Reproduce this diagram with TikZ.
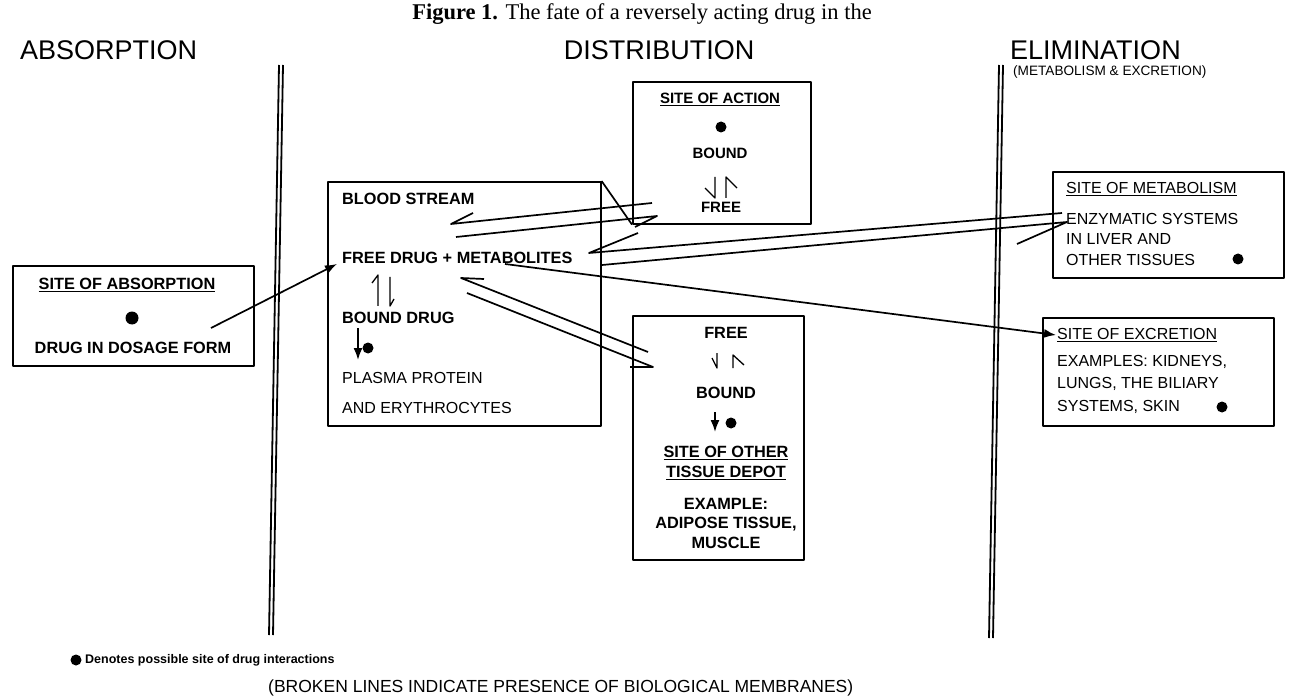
\documentclass[tikz,border=0pt]{standalone}
\usepackage{fontspec}
\setmainfont{Liberation Sans}
\newfontfamily\capfont{Liberation Serif}
\usetikzlibrary{arrows.meta}

\tikzset{
  box/.style={draw, line width=1.6pt, anchor=north west, inner sep=0pt},
  bigtxt/.style={font=\fontsize{27pt}{30pt}\selectfont, inner sep=0pt},
  txt/.style={font=\fontsize{16pt}{20.5pt}\selectfont, inner sep=0pt},
  btxt/.style={font=\fontsize{16.3pt}{20pt}\selectfont\bfseries, inner sep=0pt},
  sbtxt/.style={font=\fontsize{15pt}{18pt}\selectfont\bfseries, inner sep=0pt},
  dot/.style={circle, fill, inner sep=0pt, minimum size=11pt},
  link/.style={line width=1.7pt},
  harp/.style={line width=1.3pt},
  arr/.style={line width=1.7pt, -{Latex[length=12pt,width=9pt]}},
  membrane/.style={line width=1.8pt}
}

\begin{document}
\begin{tikzpicture}[x=1pt, y=-1pt, line join=round]
\useasboundingbox (0,0) rectangle (1297,700);

% headings
\node[font=\capfont\fontsize{22.5pt}{24pt}\selectfont, inner sep=0pt] (title) at (642,14)
  {\textbf{Figure 1.} The fate of a reversely acting drug in the};
\node[bigtxt, anchor=west] (hAbs) at (20,50) {ABSORPTION};
\node[bigtxt] (hDist) at (659,50) {DISTRIBUTION};
\node[bigtxt, anchor=west] (hElim) at (1010,50) {ELIMINATION};
\node[font=\fontsize{13.6pt}{16pt}\selectfont, inner sep=0pt, anchor=west] (hElimSub) at (1013,72)
  {(METABOLISM \& EXCRETION)};

% membranes
\coordinate (memAtop) at (281,65);
\coordinate (memAbot) at (271,635);
\coordinate (memEtop) at (1001,65);
\coordinate (memEbot) at (991,638);
\foreach \s in {-2,2}{
  \draw[membrane] ([xshift=\s pt]memAtop) -- ([xshift=\s pt]memAbot);
  \draw[membrane] ([xshift=\s pt]memEtop) -- ([xshift=\s pt]memEbot);
}

% compartments
\node[box, minimum width=241pt, minimum height=100pt] (absBox) at (12,265) {};
\node[box, minimum width=273pt, minimum height=244pt] (bloodBox) at (327,181) {};
\node[box, minimum width=178pt, minimum height=142pt] (actBox) at (632,81) {};
\node[box, minimum width=171pt, minimum height=244pt] (depotBox) at (632,315) {};
\node[box, minimum width=231pt, minimum height=106pt] (metBox) at (1052,171) {};
\node[box, minimum width=231pt, minimum height=108pt] (excBox) at (1042,317) {};

% site of absorption
\node[btxt] (absTitle) at (127,285) {\underline{SITE OF ABSORPTION}};
\node[dot, minimum size=13pt] (absDot) at (132,318) {};
\node[btxt] (absForm) at (133,348) {DRUG IN DOSAGE FORM};

% blood stream
\node[btxt, anchor=west] (blood) at (342,199) {BLOOD STREAM};
\node[btxt, anchor=west] (freeDrug) at (342,258) {FREE DRUG + METABOLITES};
\node[btxt, anchor=west] (boundDrug) at (342,318) {BOUND DRUG};
\node[txt, anchor=west] (plasma) at (342,378) {PLASMA PROTEIN};
\node[txt, anchor=west] (erythro) at (342,408) {AND ERYTHROCYTES};
\node[dot] (bloodDot) at (368,348) {};
\draw[harp] (378,306) -- (378,275) -- (372,283);
\draw[harp] (390,277) -- (390,306) -- (394,299);
\draw[arr] (358,328) -- (358,360);

% site of action
\node[sbtxt] (actTitle) at (720,99) {\underline{SITE OF ACTION}};
\node[dot] (actDot) at (721,127) {};
\node[sbtxt] (actBound) at (720,153) {BOUND};
\node[sbtxt] (actFree) at (721,207) {FREE};
\draw[harp] (715,177) -- (715,198) -- (705,188);
\draw[harp] (726,198) -- (726,177) -- (737,188);

% other tissue depot
\node[btxt] (depFree) at (726,333) {FREE};
\draw[harp] (717,353) -- (717,368) -- (712,358);
\draw[harp] (733,368) -- (733,355) -- (744,365);
\node[btxt] (depBound) at (726,393) {BOUND};
\draw[arr] (715,412) -- (715,432);
\node[dot] (depDot) at (731,423) {};
\node[btxt, align=center] (depTitle) at (726,463) {\underline{SITE OF OTHER}\\\underline{TISSUE DEPOT}};
\node[btxt, font=\fontsize{16.3pt}{19.5pt}\selectfont\bfseries, align=center] (depEx) at (726,523)
  {EXAMPLE:\\ADIPOSE TISSUE,\\MUSCLE};

% site of metabolism
\node[txt, anchor=west] (metTitle) at (1066,189) {\underline{SITE OF METABOLISM}};
\node[txt, anchor=west, align=left] (metText) at (1066,239) {ENZYMATIC SYSTEMS\\IN LIVER AND\\OTHER TISSUES};
\node[dot] (metDot) at (1238,259) {};

% site of excretion
\node[txt, anchor=west] (excTitle) at (1057,335) {\underline{SITE OF EXCRETION}};
\node[txt, font=\fontsize{16pt}{22.5pt}\selectfont, anchor=west, align=left] (excText) at (1057,384)
  {EXAMPLES: KIDNEYS,\\LUNGS, THE BILIARY\\SYSTEMS, SKIN};
\node[dot] (excDot) at (1222,407) {};

% transfer lines
\coordinate (absOut) at (211,328);
\coordinate (bsIn) at (337,264);
\coordinate (actOut) at (652,203);
\coordinate (bsBack) at (451,224);
\coordinate (bsToAct) at (456,237);
\coordinate (actIn) at (657,216);
\coordinate (metOut) at (1062,213);
\coordinate (bsFromMet) at (589,253);
\coordinate (bsToMet) at (602,265);
\coordinate (metIn) at (1067,222);
\coordinate (bsToExc) at (505,264);
\coordinate (excIn) at (1056,335);
\coordinate (depOut) at (648,352);
\coordinate (bsFromDep) at (461,278);
\coordinate (bsToDep) at (467,293);
\coordinate (depIn) at (653,367);

\draw[arr] (absOut) -- (bsIn);
\draw[link] (actOut) -- (bsBack) -- ++(22,-11);
\draw[link] (bsToAct) -- (actIn) -- ++(-22,11);
\draw[link] (bloodBox.north east) -- (actBox.south west);
\draw[link] (metOut) -- (bsFromMet) -- ++(49,-20);
\draw[link] (bsToMet) -- (metIn) -- ++(-50,22);
\draw[arr] (bsToExc) -- (excIn);
\draw[link] (depOut) -- (bsFromDep) -- ++(23,1);
\draw[link] (bsToDep) -- (depIn) -- ++(-23,0);

% key
\node[dot] (keyDot) at (76,660) {};
\node[font=\fontsize{12.5pt}{15pt}\selectfont\bfseries, anchor=west, inner sep=0pt] (keyText) at (85,660)
  {Denotes possible site of drug interactions};
\node[font=\fontsize{17.5pt}{20pt}\selectfont, anchor=west, inner sep=0pt] (noteText) at (268,688)
  {(BROKEN LINES INDICATE PRESENCE OF BIOLOGICAL MEMBRANES)};
\end{tikzpicture}
\end{document}
